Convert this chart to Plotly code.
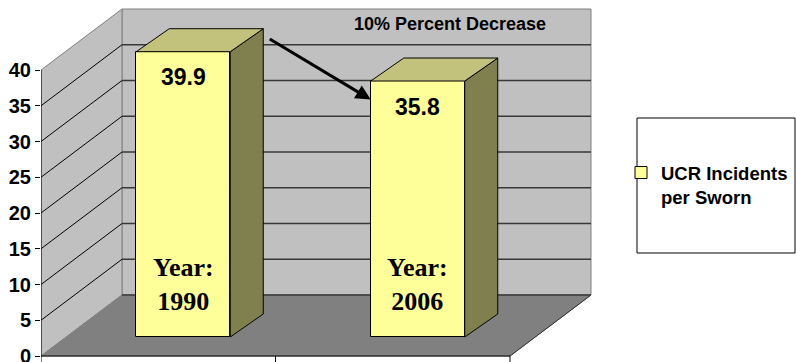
import plotly.graph_objects as go

# ---- data ----
years = ["1990", "2006"]
incidents = [39.9, 35.8]
y_ticks = [0, 5, 10, 15, 20, 25, 30, 35, 40]
series_name = "<b>UCR Incidents<br>per Sworn</b>"
note_text = "10% Percent Decrease"

# ---- 3-D box geometry (x in screen pixels, y in value units) ----
PX_PER_UNIT = 7.15
FRONT_BOTTOM_PX = 356
W, H = 796, 362


def val_at(py):
    """Value on the front plane at screen row py."""
    return (FRONT_BOTTOM_PX - py) / PX_PER_UNIT


FRONT_LEFT, FRONT_RIGHT = 41, 510
DEPTH_DX = 81
DEPTH_DV = 61 / PX_PER_UNIT
BACK_LEFT, BACK_RIGHT = FRONT_LEFT + DEPTH_DX, FRONT_RIGHT + DEPTH_DX
Y_MAX = y_ticks[-1]

# bars sit part-way into the box
BAR_SHIFT_X = 25
BAR_BASE = 19 / PX_PER_UNIT
BAR_W = 94
BAR_DX = 33
BAR_DV = 23 / PX_PER_UNIT

FRONT_C = "#FFFF99"
TOP_C = "#C2C27C"
SIDE_C = "#80804E"
WALL_C = "#C0C0C0"
FLOOR_C = "#808080"
ARIAL = "Liberation Sans, Arial"

n = len(years)
slot = (FRONT_RIGHT - FRONT_LEFT) / n
centers = [FRONT_LEFT + slot * (i + 0.5) + BAR_SHIFT_X for i in range(n)]

fig = go.Figure()

# front faces
fig.add_trace(go.Bar(
    x=centers, y=incidents, base=[BAR_BASE] * n, width=BAR_W,
    marker=dict(color=FRONT_C, line=dict(color="black", width=1)),
    name=series_name, showlegend=True, hoverinfo="skip",
))

# side and top faces
for cx, val in zip(centers, incidents):
    xl, xr = cx - BAR_W / 2, cx + BAR_W / 2
    top = BAR_BASE + val
    fig.add_trace(go.Scatter(
        x=[xr, xr, xr + BAR_DX, xr + BAR_DX, xr],
        y=[BAR_BASE, top, top + BAR_DV, BAR_BASE + BAR_DV, BAR_BASE],
        fill="toself", fillcolor=SIDE_C, mode="lines",
        line=dict(color="black", width=1), showlegend=False, hoverinfo="skip",
    ))
    fig.add_trace(go.Scatter(
        x=[xl, xr, xr + BAR_DX, xl + BAR_DX, xl],
        y=[top, top, top + BAR_DV, top + BAR_DV, top],
        fill="toself", fillcolor=TOP_C, mode="lines",
        line=dict(color="black", width=1), showlegend=False, hoverinfo="skip",
    ))

shapes = []
# back wall
shapes.append(dict(type="rect", xref="x", yref="y", layer="below",
                   x0=BACK_LEFT, x1=BACK_RIGHT, y0=DEPTH_DV, y1=Y_MAX + DEPTH_DV,
                   fillcolor=WALL_C, line=dict(color="#808080", width=1)))
# side wall
shapes.append(dict(type="path", xref="x", yref="y", layer="below",
                   path=f"M{FRONT_LEFT},0 L{FRONT_LEFT},{Y_MAX} L{BACK_LEFT},{Y_MAX + DEPTH_DV} "
                        f"L{BACK_LEFT},{DEPTH_DV} Z",
                   fillcolor=WALL_C, line=dict(color="#808080", width=1)))
# floor
shapes.append(dict(type="path", xref="x", yref="y", layer="below",
                   path=f"M{FRONT_LEFT},0 L{FRONT_RIGHT},0 L{BACK_RIGHT},{DEPTH_DV} "
                        f"L{BACK_LEFT},{DEPTH_DV} Z",
                   fillcolor=FLOOR_C, line=dict(color="#808080", width=1)))
shapes.append(dict(type="line", xref="x", yref="y", layer="below",
                   x0=FRONT_RIGHT, y0=0, x1=BACK_RIGHT, y1=DEPTH_DV,
                   line=dict(color="#303030", width=1)))
# gridlines on the back wall and their diagonals on the side wall
for t in y_ticks[:-1]:
    shapes.append(dict(type="line", xref="x", yref="y", layer="below",
                       x0=BACK_LEFT, x1=BACK_RIGHT, y0=t + DEPTH_DV, y1=t + DEPTH_DV,
                       line=dict(color="#383838", width=1.5)))
    if t > 0:
        shapes.append(dict(type="line", xref="x", yref="y", layer="below",
                           x0=FRONT_LEFT, y0=t, x1=BACK_LEFT, y1=t + DEPTH_DV,
                           line=dict(color="black", width=1)))
# value axis line and category axis with its ticks
shapes.append(dict(type="line", xref="x", yref="y", x0=FRONT_LEFT, x1=FRONT_LEFT,
                   y0=0, y1=Y_MAX, line=dict(color="black", width=1)))
shapes.append(dict(type="line", xref="x", yref="y", x0=FRONT_LEFT, x1=FRONT_RIGHT,
                   y0=0, y1=0, line=dict(color="black", width=1)))
for i in range(n + 1):
    xt = FRONT_LEFT + slot * i
    shapes.append(dict(type="line", xref="x", yref="y", x0=xt, x1=xt,
                       y0=0, y1=val_at(H), line=dict(color="black", width=1)))
# legend frame
shapes.append(dict(type="rect", xref="x", yref="paper", x0=637, x1=795,
                   y0=1 - 253 / H, y1=1 - 118 / H,
                   fillcolor="white", line=dict(color="black", width=1), layer="below"))

annotations = []
for cx, val, yr in zip(centers, incidents, years):
    annotations.append(dict(
        x=cx, y=BAR_BASE + val - 3.6, xref="x", yref="y", text=f"<b>{val}</b>",
        showarrow=False, yanchor="middle",
        font=dict(family=ARIAL, size=23, color="black"),
    ))
    annotations.append(dict(
        x=cx, y=BAR_BASE + 7.4, xref="x", yref="y", text=f"<b>Year:<br>{yr}</b>",
        showarrow=False, yanchor="middle",
        font=dict(family="Liberation Serif, Times New Roman", size=26, color="black"),
    ))

# decrease arrow from the first bar's top to the second bar
x_tail = centers[0] + BAR_W / 2 + BAR_DX + 5
x_tip = centers[1] - BAR_W / 2
annotations.append(dict(
    x=x_tip, y=BAR_BASE + incidents[1] - 2.6, xref="x", yref="y",
    ax=x_tail, ay=BAR_BASE + incidents[0] + 1.9, axref="x", ayref="y",
    text="", showarrow=True, arrowhead=2, arrowsize=1, arrowwidth=3,
    arrowcolor="black", standoff=0,
))
annotations.append(dict(
    x=450, y=val_at(24), xref="x", yref="y", text=f"<b>{note_text}</b>", showarrow=False,
    font=dict(family=ARIAL, size=18, color="black"),
))

fig.update_layout(
    width=W, height=H,
    margin=dict(l=FRONT_LEFT, r=0, t=0, b=0, autoexpand=False),
    paper_bgcolor="white", plot_bgcolor="white",
    shapes=shapes, annotations=annotations,
    bargap=0,
    xaxis=dict(range=[FRONT_LEFT, W], visible=False, fixedrange=True, automargin=False),
    yaxis=dict(range=[val_at(H), val_at(0)], tickvals=y_ticks,
               ticktext=[f"<b>{t}</b>" for t in y_ticks], ticks="outside",
               ticklen=5, tickcolor="black", showgrid=False, zeroline=False,
               showline=False, ticklabeloverflow="allow", automargin=False,
               tickfont=dict(family=ARIAL, size=20, color="black")),
    legend=dict(x=(621 - FRONT_LEFT) / (W - FRONT_LEFT), xanchor="left",
                y=1 - 185 / H, yanchor="middle", bgcolor="rgba(0,0,0,0)",
                valign="top", tracegroupgap=0,
                font=dict(family=ARIAL, size=18.5, color="black")),
    showlegend=True,
)

fig.write_html("out.html")
